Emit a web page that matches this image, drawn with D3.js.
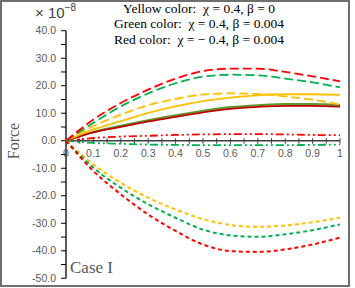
<!DOCTYPE html>
<html><head><meta charset="utf-8">
<script src="https://cdn.jsdelivr.net/npm/d3@7"></script>
<style>html,body{margin:0;padding:0;background:#fff;} .pre{white-space:pre;}</style>
</head><body>
<svg id="chart" width="355" height="288"></svg>
<script>
const xValues = [0, 0.1, 0.2, 0.3, 0.4, 0.5, 0.6, 0.7, 0.8, 0.9, 1.0];
const redDashTop    = [0, 7.7, 13.7, 18.6, 22.6, 25.3, 26.2, 26.2, 25.0, 23.4, 21.6];
const greenDashTop  = [0, 6.5, 12.5, 17.2, 20.9, 23.3, 24.0, 23.8, 22.6, 21.2, 19.4];
const yellowDashTop = [0, 5.3, 9.5, 12.9, 15.2, 16.8, 17.2, 17.0, 16.1, 14.9, 13.1];
const yellowSolid   = [0, 4.1, 7.1, 10.1, 12.5, 14.4, 15.7, 16.5, 16.9, 16.9, 16.7];
const greenSolid    = [0, 3.2, 5.4, 7.4, 9.2, 10.9, 12.2, 12.9, 13.3, 13.3, 13.0];
const redSolid      = [0, 3.0, 5.0, 7.0, 8.7, 10.3, 11.6, 12.3, 12.7, 12.7, 12.4];
const redDashDot    = [0, 1.0, 1.5, 1.8, 2.1, 2.3, 2.4, 2.4, 2.3, 2.1, 2.0];
const greenDashDot  = [0, -0.8, -1.1, -1.4, -1.5, -1.6, -1.6, -1.6, -1.6, -1.5, -1.4];
const yellowDashBot = [0, -8.6, -15.3, -20.7, -25.0, -28.5, -30.6, -31.3, -30.8, -29.6, -28.0];
const greenDashBot  = [0, -9.8, -17.1, -23.1, -28.0, -32.3, -34.4, -34.9, -34.0, -32.5, -30.4];
const redDashBot    = [0, -11.0, -19.5, -26.8, -32.8, -37.7, -40.1, -40.4, -39.5, -37.7, -35.2];

const yTicks = [40, 30, 20, 10, 0, -10, -20, -30, -40, -50];
const xTickLabels = [0, 0.1, 0.2, 0.3, 0.4, 0.5, 0.6, 0.7, 0.8, 0.9, 1];
const legendLines = [
  "Yellow color:  \u03c7 = 0.4, \u03b2 = 0",
  "Green color:  \u03c7 = 0.4, \u03b2 = 0.004",
  "Red color:  \u03c7 = \u2212 0.4, \u03b2 = 0.004"
];

const series = [
  {v: greenSolid, c: "#5E9A32", dash: null, w: 2.2},
  {v: redSolid, c: "#C00000", dash: null, w: 1.8},
  {v: yellowSolid, c: "#FFC000", dash: null, w: 1.8},
  {v: yellowDashTop, c: "#FFC000", dash: "9,4", w: 1.8},
  {v: greenDashTop, c: "#00B050", dash: "9,4", w: 1.8},
  {v: redDashTop, c: "#FF0000", dash: "9,4", w: 1.8},
  {v: redDashDot, c: "#FF0000", dash: "8,3,2,3,2,3", w: 1.8},
  {v: greenDashDot, c: "#00B050", dash: "8,3,2,3,2,3", w: 1.8},
  {v: yellowDashBot, c: "#FFC000", dash: "4,3", w: 2},
  {v: greenDashBot, c: "#00B050", dash: "4,3", w: 2},
  {v: redDashBot, c: "#FF0000", dash: "4,3", w: 2}
];

const svg = d3.select("#chart");
svg.append("rect").attr("x", 1).attr("y", 1).attr("width", 348).attr("height", 285)
  .attr("fill", "#fff").attr("stroke", "#6e6e6e").attr("stroke-width", 2);

const x = d3.scaleLinear().domain([0, 1]).range([66, 340]);
const y = d3.scaleLinear().domain([-50, 40]).range([278.3, 30.7]);

// y axis
const yAxisG = svg.append("g").attr("transform", `translate(${x(0)},0)`);
yAxisG.append("line").attr("y1", y(40)).attr("y2", y(-50)).attr("stroke", "#000").attr("stroke-width", 1.3);
const minor = d3.range(-50, 41, 5);
yAxisG.selectAll(".yt").data(minor).join("line")
  .attr("x1", -5).attr("x2", 0).attr("y1", d => y(d)).attr("y2", d => y(d))
  .attr("stroke", "#000").attr("stroke-width", 1);
yAxisG.selectAll(".yl").data(yTicks).join("text")
  .attr("x", -10).attr("y", d => y(d)).attr("dy", "0.35em")
  .attr("text-anchor", "end").attr("font-family", "Liberation Sans, Arial, sans-serif")
  .attr("font-size", 10.5).attr("fill", "#595959")
  .text(d => (d < 0 ? "-" : "") + Math.abs(d).toFixed(1));

// x axis
const xAxisG = svg.append("g").attr("transform", `translate(0,${y(0)})`);
xAxisG.append("line").attr("x1", x(0)).attr("x2", x(1)).attr("stroke", "#404040").attr("stroke-width", 1.5);
xAxisG.selectAll(".xt").data(d3.range(0, 1.0001, 0.05)).join("line")
  .attr("x1", d => x(d)).attr("x2", d => x(d)).attr("y1", -2.5).attr("y2", 3)
  .attr("stroke", "#404040").attr("stroke-width", 1);
xAxisG.selectAll(".xl").data(xTickLabels).join("text")
  .attr("x", d => x(d)).attr("y", 12.5).attr("dy", "0.35em")
  .attr("text-anchor", "middle").attr("font-family", "Liberation Sans, Arial, sans-serif")
  .attr("font-size", 10.5).attr("fill", "#595959")
  .text(d => String(d));

// lines
const line = d3.line().x((d, i) => x(xValues[i])).y(d => y(d)).curve(d3.curveMonotoneX);
svg.append("g").selectAll("path").data(series).join("path")
  .attr("d", d => line(d.v)).attr("fill", "none")
  .attr("stroke", d => d.c).attr("stroke-width", d => d.w)
  .attr("stroke-dasharray", d => d.dash);

// legend text
svg.append("g").selectAll("text").data(legendLines).join("text")
  .attr("class", "pre")
  .attr("x", 199).attr("y", (d, i) => 12.5 + i * 15.5)
  .attr("text-anchor", "middle").attr("font-family", "Liberation Serif, Times New Roman, serif")
  .attr("font-size", 13.5).attr("fill", "#000")
  .text(d => d);

// multiplier
const mult = svg.append("text").attr("x", 35).attr("y", 18)
  .attr("font-family", "Liberation Sans, Arial, sans-serif").attr("font-size", 15).attr("fill", "#404040");
mult.append("tspan").text("\u00d7 10");
mult.append("tspan").attr("font-size", 10).attr("dy", -7).text("\u22128");

// y axis title
svg.append("text").attr("transform", "translate(19,141) rotate(-90)")
  .attr("text-anchor", "middle").attr("font-family", "Liberation Serif, Times New Roman, serif")
  .attr("font-size", 16).attr("fill", "#595959").text("Force");

// case label
svg.append("text").attr("x", 70).attr("y", 273)
  .attr("font-family", "Liberation Serif, Times New Roman, serif")
  .attr("font-size", 17).attr("fill", "#595959").text("Case I");
</script>
</body></html>
